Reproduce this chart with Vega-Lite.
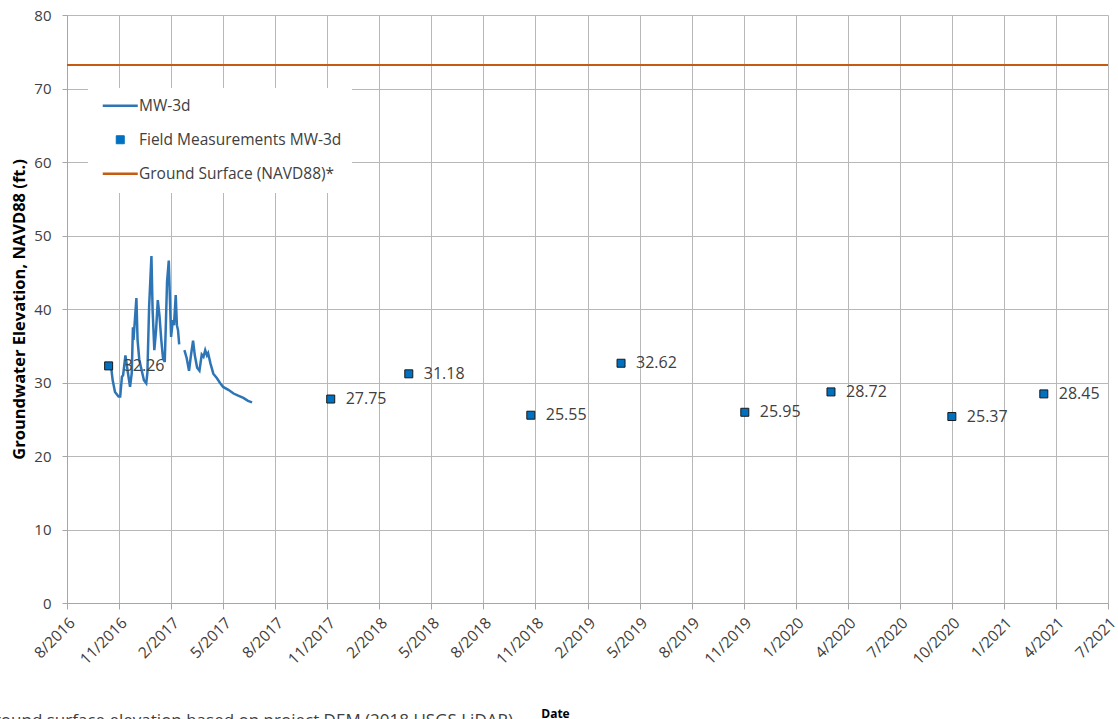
{
  "$schema": "https://vega.github.io/schema/vega-lite/v6.json",
  "width": 1041,
  "height": 588,
  "autosize": "none",
  "padding": {"left": 67, "top": 15, "right": 10, "bottom": 116},
  "background": "white",
  "config": {"view": {"stroke": null}, "font": "Open Sans"},
  "title": {
    "text": "*Ground surface elevation based on project DEM (2018 USGS LiDAR)",
    "orient": "bottom", "anchor": "start", "align": "right", "frame": "group",
    "dx": 446, "dy": -6, "offset": 0, "baseline": "top",
    "fontSize": 17, "fontWeight": "normal", "color": "#404040", "font": "Open Sans"
  },
  "data": {"values": [
    {"date": "2016-08-18", "value": 73.2, "series": "Ground Surface (NAVD88)*", "seg": "g"},
    {"date": "2021-07-23", "value": 73.2, "series": "Ground Surface (NAVD88)*", "seg": "g"},
    {"date": "2016-10-29", "value": 32.26, "series": "Field Measurements MW-3d", "seg": "f"},
    {"date": "2017-11-17", "value": 27.75, "series": "Field Measurements MW-3d", "seg": "f"},
    {"date": "2018-04-01", "value": 31.18, "series": "Field Measurements MW-3d", "seg": "f"},
    {"date": "2018-10-29", "value": 25.55, "series": "Field Measurements MW-3d", "seg": "f"},
    {"date": "2019-04-03", "value": 32.62, "series": "Field Measurements MW-3d", "seg": "f"},
    {"date": "2019-11-03", "value": 25.95, "series": "Field Measurements MW-3d", "seg": "f"},
    {"date": "2020-03-31", "value": 28.72, "series": "Field Measurements MW-3d", "seg": "f"},
    {"date": "2020-10-26", "value": 25.37, "series": "Field Measurements MW-3d", "seg": "f"},
    {"date": "2021-04-03", "value": 28.45, "series": "Field Measurements MW-3d", "seg": "f"},
    {"date": "2016-11-02", "value": 32.3, "series": "MW-3d", "seg": "a"},
    {"date": "2016-11-05", "value": 30.3, "series": "MW-3d", "seg": "a"},
    {"date": "2016-11-09", "value": 28.7, "series": "MW-3d", "seg": "a"},
    {"date": "2016-11-15", "value": 28.1, "series": "MW-3d", "seg": "a"},
    {"date": "2016-11-18", "value": 28.1, "series": "MW-3d", "seg": "a"},
    {"date": "2016-11-21", "value": 30.8, "series": "MW-3d", "seg": "a"},
    {"date": "2016-11-23", "value": 31.0, "series": "MW-3d", "seg": "a"},
    {"date": "2016-11-27", "value": 33.7, "series": "MW-3d", "seg": "a"},
    {"date": "2016-12-01", "value": 31.5, "series": "MW-3d", "seg": "a"},
    {"date": "2016-12-05", "value": 29.4, "series": "MW-3d", "seg": "a"},
    {"date": "2016-12-08", "value": 31.3, "series": "MW-3d", "seg": "a"},
    {"date": "2016-12-10", "value": 37.5, "series": "MW-3d", "seg": "a"},
    {"date": "2016-12-11", "value": 35.8, "series": "MW-3d", "seg": "a"},
    {"date": "2016-12-16", "value": 41.5, "series": "MW-3d", "seg": "a"},
    {"date": "2016-12-18", "value": 35.8, "series": "MW-3d", "seg": "a"},
    {"date": "2016-12-21", "value": 33.1, "series": "MW-3d", "seg": "a"},
    {"date": "2016-12-29", "value": 30.3, "series": "MW-3d", "seg": "a"},
    {"date": "2017-01-02", "value": 29.9, "series": "MW-3d", "seg": "a"},
    {"date": "2017-01-04", "value": 31.3, "series": "MW-3d", "seg": "a"},
    {"date": "2017-01-07", "value": 40.3, "series": "MW-3d", "seg": "a"},
    {"date": "2017-01-11", "value": 47.2, "series": "MW-3d", "seg": "a"},
    {"date": "2017-01-13", "value": 39.9, "series": "MW-3d", "seg": "a"},
    {"date": "2017-01-16", "value": 34.4, "series": "MW-3d", "seg": "a"},
    {"date": "2017-01-19", "value": 37.1, "series": "MW-3d", "seg": "a"},
    {"date": "2017-01-22", "value": 41.2, "series": "MW-3d", "seg": "a"},
    {"date": "2017-01-25", "value": 39.0, "series": "MW-3d", "seg": "a"},
    {"date": "2017-01-28", "value": 35.8, "series": "MW-3d", "seg": "a"},
    {"date": "2017-01-31", "value": 33.3, "series": "MW-3d", "seg": "a"},
    {"date": "2017-02-03", "value": 32.8, "series": "MW-3d", "seg": "a"},
    {"date": "2017-02-05", "value": 38.1, "series": "MW-3d", "seg": "a"},
    {"date": "2017-02-07", "value": 43.7, "series": "MW-3d", "seg": "a"},
    {"date": "2017-02-10", "value": 46.6, "series": "MW-3d", "seg": "a"},
    {"date": "2017-02-12", "value": 41.2, "series": "MW-3d", "seg": "a"},
    {"date": "2017-02-14", "value": 36.2, "series": "MW-3d", "seg": "a"},
    {"date": "2017-02-17", "value": 38.5, "series": "MW-3d", "seg": "a"},
    {"date": "2017-02-19", "value": 37.8, "series": "MW-3d", "seg": "a"},
    {"date": "2017-02-22", "value": 41.9, "series": "MW-3d", "seg": "a"},
    {"date": "2017-02-24", "value": 37.8, "series": "MW-3d", "seg": "a"},
    {"date": "2017-02-26", "value": 37.1, "series": "MW-3d", "seg": "a"},
    {"date": "2017-02-28", "value": 35.2, "series": "MW-3d", "seg": "a"},
    {"date": "2017-03-09", "value": 34.4, "series": "MW-3d", "seg": "b"},
    {"date": "2017-03-13", "value": 33.3, "series": "MW-3d", "seg": "b"},
    {"date": "2017-03-17", "value": 31.6, "series": "MW-3d", "seg": "b"},
    {"date": "2017-03-20", "value": 33.5, "series": "MW-3d", "seg": "b"},
    {"date": "2017-03-24", "value": 35.7, "series": "MW-3d", "seg": "b"},
    {"date": "2017-03-27", "value": 33.7, "series": "MW-3d", "seg": "b"},
    {"date": "2017-03-31", "value": 32.0, "series": "MW-3d", "seg": "b"},
    {"date": "2017-04-04", "value": 31.6, "series": "MW-3d", "seg": "b"},
    {"date": "2017-04-08", "value": 33.8, "series": "MW-3d", "seg": "b"},
    {"date": "2017-04-11", "value": 33.5, "series": "MW-3d", "seg": "b"},
    {"date": "2017-04-14", "value": 34.4, "series": "MW-3d", "seg": "b"},
    {"date": "2017-04-17", "value": 33.7, "series": "MW-3d", "seg": "b"},
    {"date": "2017-04-19", "value": 34.0, "series": "MW-3d", "seg": "b"},
    {"date": "2017-04-23", "value": 32.6, "series": "MW-3d", "seg": "b"},
    {"date": "2017-04-28", "value": 31.2, "series": "MW-3d", "seg": "b"},
    {"date": "2017-05-04", "value": 30.6, "series": "MW-3d", "seg": "b"},
    {"date": "2017-05-10", "value": 29.9, "series": "MW-3d", "seg": "b"},
    {"date": "2017-05-15", "value": 29.4, "series": "MW-3d", "seg": "b"},
    {"date": "2017-05-24", "value": 29.0, "series": "MW-3d", "seg": "b"},
    {"date": "2017-06-02", "value": 28.5, "series": "MW-3d", "seg": "b"},
    {"date": "2017-06-10", "value": 28.2, "series": "MW-3d", "seg": "b"},
    {"date": "2017-06-19", "value": 27.9, "series": "MW-3d", "seg": "b"},
    {"date": "2017-06-27", "value": 27.5, "series": "MW-3d", "seg": "b"},
    {"date": "2017-07-04", "value": 27.3, "series": "MW-3d", "seg": "b"}
  ]},
  "encoding": {
    "x": {
      "field": "date", "type": "temporal",
      "scale": {"type": "utc", "domain": [{"year": 2016, "month": 8, "date": 18, "utc": true}, {"year": 2021, "month": 7, "date": 23, "utc": true}]},
      "axis": {
        "values": [
          {"year": 2016, "month": 8, "date": 18, "utc": true},
          {"year": 2016, "month": 11, "date": 16, "utc": true},
          {"year": 2017, "month": 2, "date": 14, "utc": true},
          {"year": 2017, "month": 5, "date": 15, "utc": true},
          {"year": 2017, "month": 8, "date": 13, "utc": true},
          {"year": 2017, "month": 11, "date": 11, "utc": true},
          {"year": 2018, "month": 2, "date": 9, "utc": true},
          {"year": 2018, "month": 5, "date": 10, "utc": true},
          {"year": 2018, "month": 8, "date": 8, "utc": true},
          {"year": 2018, "month": 11, "date": 6, "utc": true},
          {"year": 2019, "month": 2, "date": 4, "utc": true},
          {"year": 2019, "month": 5, "date": 5, "utc": true},
          {"year": 2019, "month": 8, "date": 3, "utc": true},
          {"year": 2019, "month": 11, "date": 1, "utc": true},
          {"year": 2020, "month": 1, "date": 30, "utc": true},
          {"year": 2020, "month": 4, "date": 29, "utc": true},
          {"year": 2020, "month": 7, "date": 28, "utc": true},
          {"year": 2020, "month": 10, "date": 26, "utc": true},
          {"year": 2021, "month": 1, "date": 24, "utc": true},
          {"year": 2021, "month": 4, "date": 24, "utc": true},
          {"year": 2021, "month": 7, "date": 23, "utc": true}
        ],
        "format": "%-m/%Y",
        "labelAngle": -45, "labelAlign": "right", "labelBaseline": "top",
        "labelFontSize": 15.5, "labelColor": "#404040", "labelPadding": 6, "labelOffset": 0,
        "labelOverlap": false, "labelFlush": false, "labelBound": false,
        "tickSize": 6, "tickColor": "#a6a6a6", "domainColor": "#a6a6a6",
        "grid": true, "gridColor": "#b8b8b8",
        "title": "Date", "titleFontSize": 12, "titleFontWeight": "bold", "titleColor": "#000000",
        "titleX": 488, "titleY": 114, "titleBaseline": "alphabetic"
      }
    },
    "y": {
      "field": "value", "type": "quantitative",
      "scale": {"domain": [0, 80]},
      "axis": {
        "values": [0, 10, 20, 30, 40, 50, 60, 70, 80],
        "labelFontSize": 15, "labelColor": "#404040", "labelPadding": 11,
        "tickSize": 5, "tickColor": "#a6a6a6", "domainColor": "#a6a6a6",
        "grid": true, "gridColor": "#b8b8b8",
        "title": "Groundwater Elevation, NAVD88 (ft.)",
        "titleFontSize": 16.5, "titleFontWeight": "bold", "titleColor": "#000000", "titlePadding": 6
      }
    }
  },
  "layer": [
    {
      "transform": [{"filter": "datum.series != 'Field Measurements MW-3d'"}],
      "mark": {"type": "line", "interpolate": "linear"},
      "encoding": {
        "color": {
          "field": "series", "type": "nominal",
          "scale": {"domain": ["MW-3d", "Field Measurements MW-3d", "Ground Surface (NAVD88)*"], "range": ["#2E75B6", "#0070C0", "#C55A11"]},
          "legend": {
            "title": null, "orient": "none", "legendX": 21, "legendY": 73,
            "fillColor": "white", "padding": 10,
            "symbolSize": 1225, "labelLimit": 400, "symbolOffset": 14.5,
            "labelFontSize": 15.5, "labelColor": "#404040", "labelFont": "Open Sans", "labelOffset": 11,
            "rowPadding": 17,
            "encode": {"symbols": {"update": {
              "shape": {"signal": "datum.value === 'Field Measurements MW-3d' ? 'square' : 'stroke'"},
              "size": {"signal": "datum.value === 'Field Measurements MW-3d' ? 64 : 1225"},
              "fill": {"signal": "datum.value === 'Field Measurements MW-3d' ? '#0070C0' : 'transparent'"},
              "stroke": {"signal": "datum.value === 'Field Measurements MW-3d' ? '#1a1a1a' : scale('color', datum.value)"},
              "strokeWidth": {"signal": "datum.value === 'Field Measurements MW-3d' ? 1 : 2.5"},
              "opacity": {"value": 1}
            }}}
          }
        },
        "strokeWidth": {"field": "series", "type": "nominal", "scale": {"domain": ["MW-3d", "Ground Surface (NAVD88)*"], "range": [2.5, 2]}, "legend": null},
        "detail": {"field": "seg", "type": "nominal"}
      }
    },
    {
      "transform": [{"filter": "datum.series == 'Field Measurements MW-3d'"}],
      "mark": {"type": "point", "shape": "square", "filled": true, "fill": "#0070C0", "stroke": "#1a1a1a", "strokeWidth": 1, "size": 64, "opacity": 1}
    },
    {
      "transform": [{"filter": "datum.series == 'Field Measurements MW-3d'"}],
      "mark": {"type": "text", "align": "left", "baseline": "middle", "dx": 15, "fontSize": 16, "color": "#404040", "font": "Open Sans"},
      "encoding": {"text": {"field": "value", "type": "quantitative", "format": ".2f"}}
    }
  ]
}
